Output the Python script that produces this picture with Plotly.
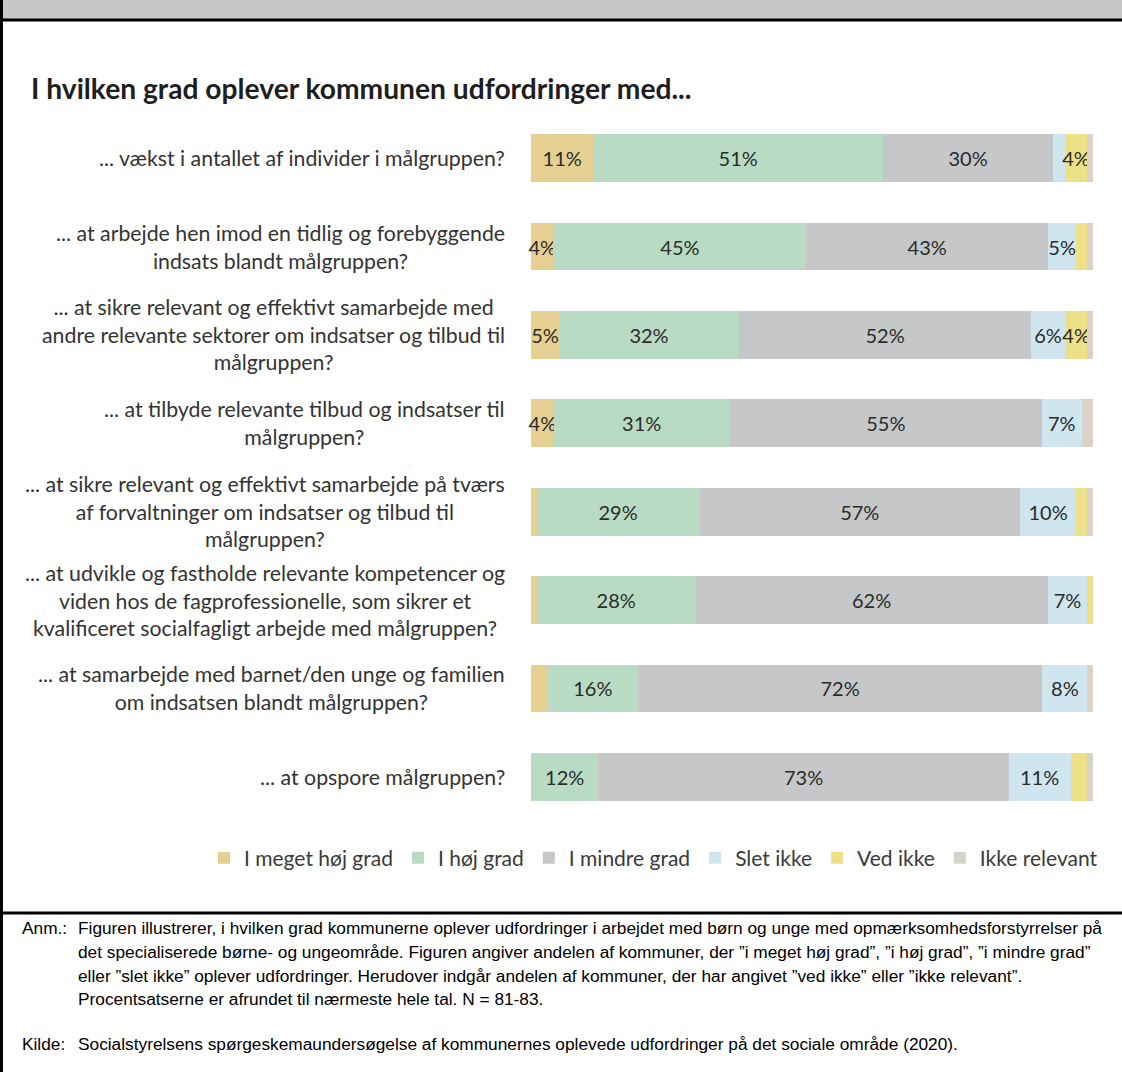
import plotly.graph_objects as go

# ---------------- data ----------------
categories = [
    "... vækst i antallet af individer i målgruppen?",
    "... at arbejde hen imod en tidlig og forebyggende<br>indsats blandt målgruppen?",
    "... at sikre relevant og effektivt samarbejde med<br>andre relevante sektorer om indsatser og tilbud til<br>målgruppen?",
    "... at tilbyde relevante tilbud og indsatser til<br>målgruppen?",
    "... at sikre relevant og effektivt samarbejde på tværs<br>af forvaltninger om indsatser og tilbud til<br>målgruppen?",
    "... at udvikle og fastholde relevante kompetencer og<br>viden hos de fagprofessionelle, som sikrer et<br>kvalificeret socialfagligt arbejde med målgruppen?",
    "... at samarbejde med barnet/den unge og familien<br>om indsatsen blandt målgruppen?",
    "... at opspore målgruppen?",
]

series_names = ["I meget høj grad", "I høj grad", "I mindre grad", "Slet ikke", "Ved ikke", "Ikke relevant"]
meget_hoej_grad = [11, 4, 5, 4, 1, 1, 3, 0]
hoej_grad = [51, 45, 32, 31, 29, 28, 16, 12]
mindre_grad = [30, 43, 52, 55, 57, 62, 72, 73]
slet_ikke = [2, 5, 6, 7, 10, 7, 8, 11]
ved_ikke = [4, 2, 4, 0, 2, 1, 0, 3]
ikke_relevant = [1, 1, 1, 2, 1, 0, 1, 1]
series_values = [meget_hoej_grad, hoej_grad, mindre_grad, slet_ikke, ved_ikke, ikke_relevant]
series_colors = ["#E6CF92", "#B9DBC4", "#C5C7C9", "#CFE6F0", "#ECE186", "#D9D2CB"]

title_text = "I hvilken grad oplever kommunen udfordringer med..."
anm_label = "Anm.:"
anm_lines = [
    "Figuren illustrerer, i hvilken grad kommunerne oplever udfordringer i arbejdet med børn og unge med opmærksomhedsforstyrrelser på",
    "det specialiserede børne- og ungeområde. Figuren angiver andelen af kommuner, der \u201di meget høj grad\u201d, \u201di høj grad\u201d, \u201di mindre grad\u201d",
    "eller \u201dslet ikke\u201d oplever udfordringer. Herudover indgår andelen af kommuner, der har angivet \u201dved ikke\u201d eller \u201dikke relevant\u201d.",
    "Procentsatserne er afrundet til nærmeste hele tal. N = 81-83.",
]
kilde_label = "Kilde:"
kilde_text = "Socialstyrelsens spørgeskemaundersøgelse af kommunernes oplevede udfordringer på det sociale område (2020)."

# ---------------- layout geometry ----------------
W, H = 1122, 1072
L, R, T, B = 531, 1093, 114, 821


def px(x):
    return (x - L) / (R - L)


def py(y):
    return (B - y) / (B - T)


FONT = "Lato, 'Open Sans', sans-serif"
ARIAL = "'Liberation Sans', Arial, sans-serif"
NOTE_SIZE = 17.3

fig = go.Figure()
for name, vals, col in zip(series_names, series_values, series_colors):
    fig.add_trace(go.Bar(
        name=name,
        y=categories,
        x=vals,
        orientation="h",
        marker=dict(color=col, line=dict(width=0)),
        text=[f"{v}%" if v >= 4 else "" for v in vals],
        textposition="inside",
        insidetextanchor="middle",
        textangle=0,
        constraintext="none",
        textfont=dict(family=FONT, size=20, color="#2b2b2b"),
        cliponaxis=False,
        hoverinfo="skip",
    ))

annotations = []
for c in categories:
    annotations.append(dict(
        x=px(507), xref="paper", y=c, yref="y",
        text=c, showarrow=False, xanchor="right", yanchor="middle", align="center",
        font=dict(family=FONT, size=21.3, color="#333333"),
    ))
annotations.append(dict(
    x=px(29), xref="paper", y=py(88), yref="paper", text=title_text, showarrow=False,
    xanchor="left", yanchor="middle", font=dict(family=FONT, size=28.2, color="#1e1e1e", weight="bold"),
))
annotations.append(dict(
    x=px(20), xref="paper", y=py(928), yref="paper", text=anm_label, showarrow=False,
    xanchor="left", yanchor="middle", font=dict(family=ARIAL, size=NOTE_SIZE, color="#000000"),
))
for i, line in enumerate(anm_lines):
    annotations.append(dict(
        x=px(76), xref="paper", y=py(928 + 23.8 * i), yref="paper", text=line, showarrow=False,
        xanchor="left", yanchor="middle", font=dict(family=ARIAL, size=NOTE_SIZE, color="#000000"),
    ))
annotations.append(dict(
    x=px(20), xref="paper", y=py(1044), yref="paper", text=kilde_label, showarrow=False,
    xanchor="left", yanchor="middle", font=dict(family=ARIAL, size=NOTE_SIZE, color="#000000"),
))
annotations.append(dict(
    x=px(76), xref="paper", y=py(1044), yref="paper", text=kilde_text, showarrow=False,
    xanchor="left", yanchor="middle", font=dict(family=ARIAL, size=NOTE_SIZE, color="#000000"),
))

shapes = [
    dict(type="rect", xref="paper", yref="paper", x0=px(0), x1=px(W), y0=py(0), y1=py(19),
         fillcolor="#C6C7C9", line=dict(width=0), layer="below"),
    dict(type="line", xref="paper", yref="paper", x0=px(0), x1=px(W), y0=py(20), y1=py(20),
         line=dict(color="black", width=3)),
    dict(type="line", xref="paper", yref="paper", x0=px(0), x1=px(W), y0=py(913), y1=py(913),
         line=dict(color="black", width=3)),
    dict(type="line", xref="paper", yref="paper", x0=px(1.5), x1=px(1.5), y0=py(0), y1=py(H),
         line=dict(color="black", width=3)),
]

fig.update_layout(
    width=W, height=H,
    margin=dict(l=L, r=W - R, t=T, b=H - B, pad=0, autoexpand=False),
    barmode="stack", barnorm="percent", bargap=0.46,
    paper_bgcolor="white", plot_bgcolor="white",
    xaxis=dict(range=[0, 100], visible=False, showgrid=False, zeroline=False, fixedrange=True),
    yaxis=dict(autorange="reversed", showticklabels=False, showgrid=False, zeroline=False,
               ticks="", showline=False, fixedrange=True),
    uniformtext=dict(mode="show", minsize=20),
    showlegend=True,
    legend=dict(orientation="h", xref="paper", yref="paper",
                x=px(204), xanchor="left", y=py(858), yanchor="middle",
                font=dict(family=FONT, size=21, color="#3a3a3a"), traceorder="normal",
                itemwidth=30, bgcolor="rgba(0,0,0,0)", borderwidth=0),
    annotations=annotations,
    shapes=shapes,
)

fig.write_html("out.html", config={"displayModeBar": False},
               post_script="document.body.style.margin='0px';")
